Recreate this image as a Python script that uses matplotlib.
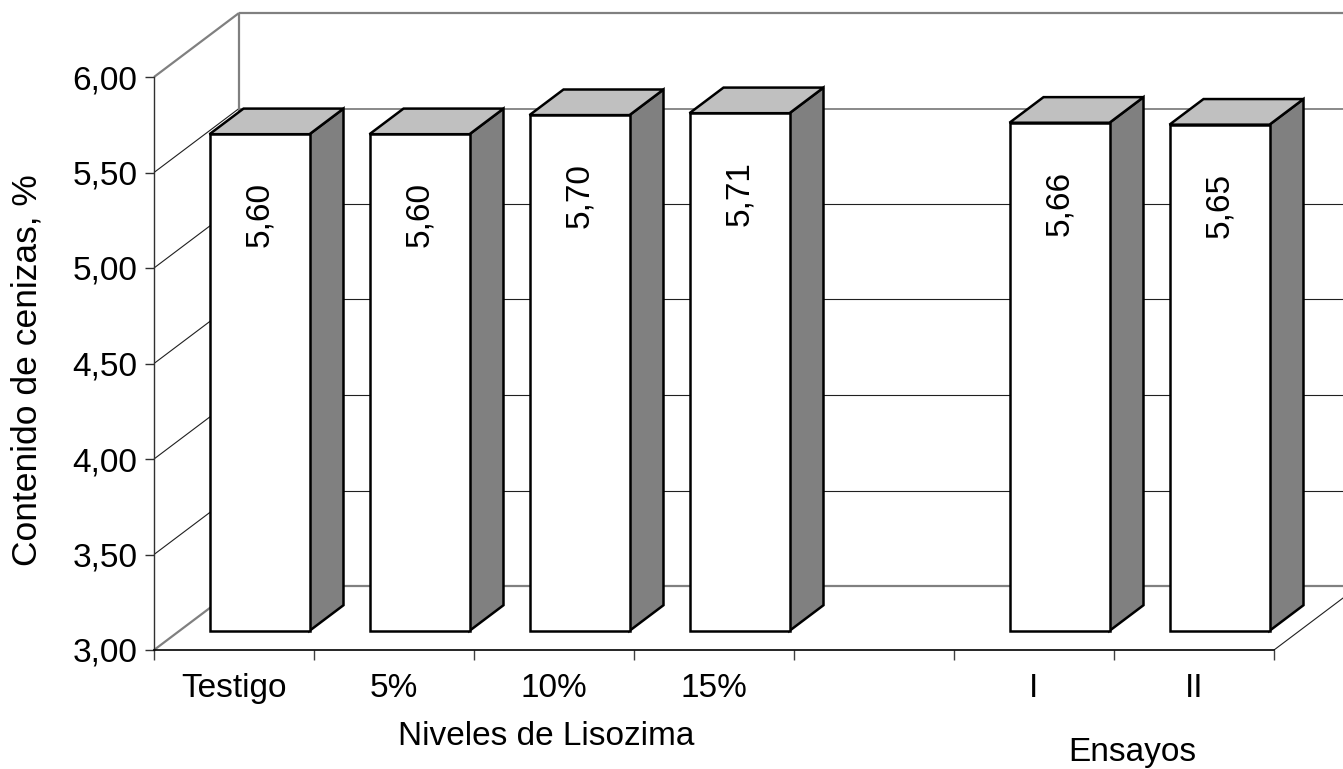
import matplotlib
matplotlib.use("Agg")
import matplotlib.pyplot as plt
from matplotlib.patches import Polygon

plt.rcParams["font.family"] = ["Liberation Sans", "DejaVu Sans"]

# Data
categories = ["Testigo", "5%", "10%", "15%", "", "I", "II"]
bar_slots = [0, 1, 2, 3, 5, 6]
values = [5.60, 5.60, 5.70, 5.71, 5.66, 5.65]
value_labels = ["5,60", "5,60", "5,70", "5,71", "5,66", "5,65"]
y_ticks = [3.0, 3.5, 4.0, 4.5, 5.0, 5.5, 6.0]
y_tick_labels = ["3,00", "3,50", "4,00", "4,50", "5,00", "5,50", "6,00"]
y_title = "Contenido de cenizas, %"
group_titles = ["Niveles de Lisozima", "Ensayos"]

W, H = 1343, 769
fig = plt.figure(figsize=(W / 100, H / 100), dpi=100)
ax = fig.add_axes([154 / W, (H - 650) / H, 1120 / W, 573 / H])
ax.set_xlim(0, 7)
ax.set_ylim(3, 6)
ax.set_facecolor("none")

# depth vector of the 3-D box, in data units
DX = 85 / 160
DY = 64 / 191
YMIN, YMAX = 3.0, 6.0
XMAX = len(categories)

EDGE = "#808080"
GRID = "#202020"


def proj(x, y, d):
    return (x + d * DX, y + d * DY)


def line(p, q, **kw):
    ax.plot([p[0], q[0]], [p[1], q[1]], clip_on=False, solid_capstyle="butt", **kw)


# back wall and left wall (white)
ax.add_patch(Polygon([proj(0, YMIN, 1), proj(XMAX + 1, YMIN, 1),
                      proj(XMAX + 1, YMAX, 1), proj(0, YMAX, 1)],
                     closed=True, facecolor="white", edgecolor="none",
                     clip_on=False, zorder=0))

# gridlines on the back wall and the left wall
for yv in y_ticks[1:-1]:
    c, lw = (EDGE, 1.3) if yv == 5.5 else (GRID, 0.8)
    line(proj(0, yv, 1), proj(XMAX + 1, yv, 1), color=c, lw=lw, zorder=1)
    line(proj(0, yv, 0), proj(0, yv, 1), color=GRID, lw=0.8, zorder=1)

# wall outlines
line(proj(0, YMAX, 1), proj(XMAX + 1, YMAX, 1), color=EDGE, lw=1.6, zorder=1)
line(proj(0, YMIN, 1), proj(0, YMAX, 1), color=EDGE, lw=1.6, zorder=1)
line(proj(0, YMAX, 0), proj(0, YMAX, 1), color=EDGE, lw=1.6, zorder=1)
line(proj(0, YMIN, 0), proj(0, YMIN, 1), color=EDGE, lw=1.6, zorder=1)
line(proj(0, YMIN, 1), proj(XMAX + 1, YMIN, 1), color=EDGE, lw=1.6, zorder=1)
line(proj(XMAX, YMIN, 0), proj(XMAX, YMIN, 1), color=GRID, lw=0.8, zorder=1)

# 3-D columns
BW = 0.625
F, B = 0.30, 0.70
for slot, v, lab in zip(bar_slots, values, value_labels):
    x0 = slot + (1 - BW) / 2
    x1 = x0 + BW
    front = [proj(x0, YMIN, F), proj(x1, YMIN, F), proj(x1, v, F), proj(x0, v, F)]
    side = [proj(x1, YMIN, F), proj(x1, YMIN, B), proj(x1, v, B), proj(x1, v, F)]
    top = [proj(x0, v, F), proj(x1, v, F), proj(x1, v, B), proj(x0, v, B)]
    for pts, fc in ((side, "#808080"), (top, "#c0c0c0"), (front, "white")):
        ax.add_patch(Polygon(pts, closed=True, facecolor=fc, edgecolor="black",
                             lw=1.8, joinstyle="miter", clip_on=False, zorder=3))
    cx = (x0 + x1) / 2 + F * DX
    ax.text(cx, v + F * DY - 0.25, lab, rotation=90, ha="center", va="top",
            fontsize=24, zorder=4)

# axes
for s in ("top", "right"):
    ax.spines[s].set_visible(False)
ax.spines["left"].set_color("#303030")
ax.spines["left"].set_linewidth(1.0)
ax.spines["bottom"].set_color("black")
ax.spines["bottom"].set_linewidth(1.2)
ax.spines["left"].set_zorder(2)
ax.spines["bottom"].set_zorder(2)

ax.set_yticks(y_ticks, y_tick_labels)
ax.tick_params(axis="y", length=6.5, width=1, color="#303030", pad=5.5,
               labelsize=24, direction="out")

ax.set_xticks(range(XMAX + 1), [""] * (XMAX + 1))
ax.set_xticks([i + 0.5 for i in range(XMAX)], categories, minor=True)
ax.tick_params(axis="x", which="major", length=7.2, width=1, color="#404040",
               direction="out")
ax.tick_params(axis="x", which="minor", length=0, pad=16.5, labelsize=24)

# titles
fig.text(27 / W, 1 - 370 / H, y_title, rotation=90, ha="center", va="center",
         fontsize=25.5)
fig.text(546 / W, 1 - 745 / H, group_titles[0], ha="center", va="baseline",
         fontsize=24)
fig.text(1132 / W, 1 - 761 / H, group_titles[1], ha="center", va="baseline",
         fontsize=24)

fig.savefig("out.png", dpi=100)
